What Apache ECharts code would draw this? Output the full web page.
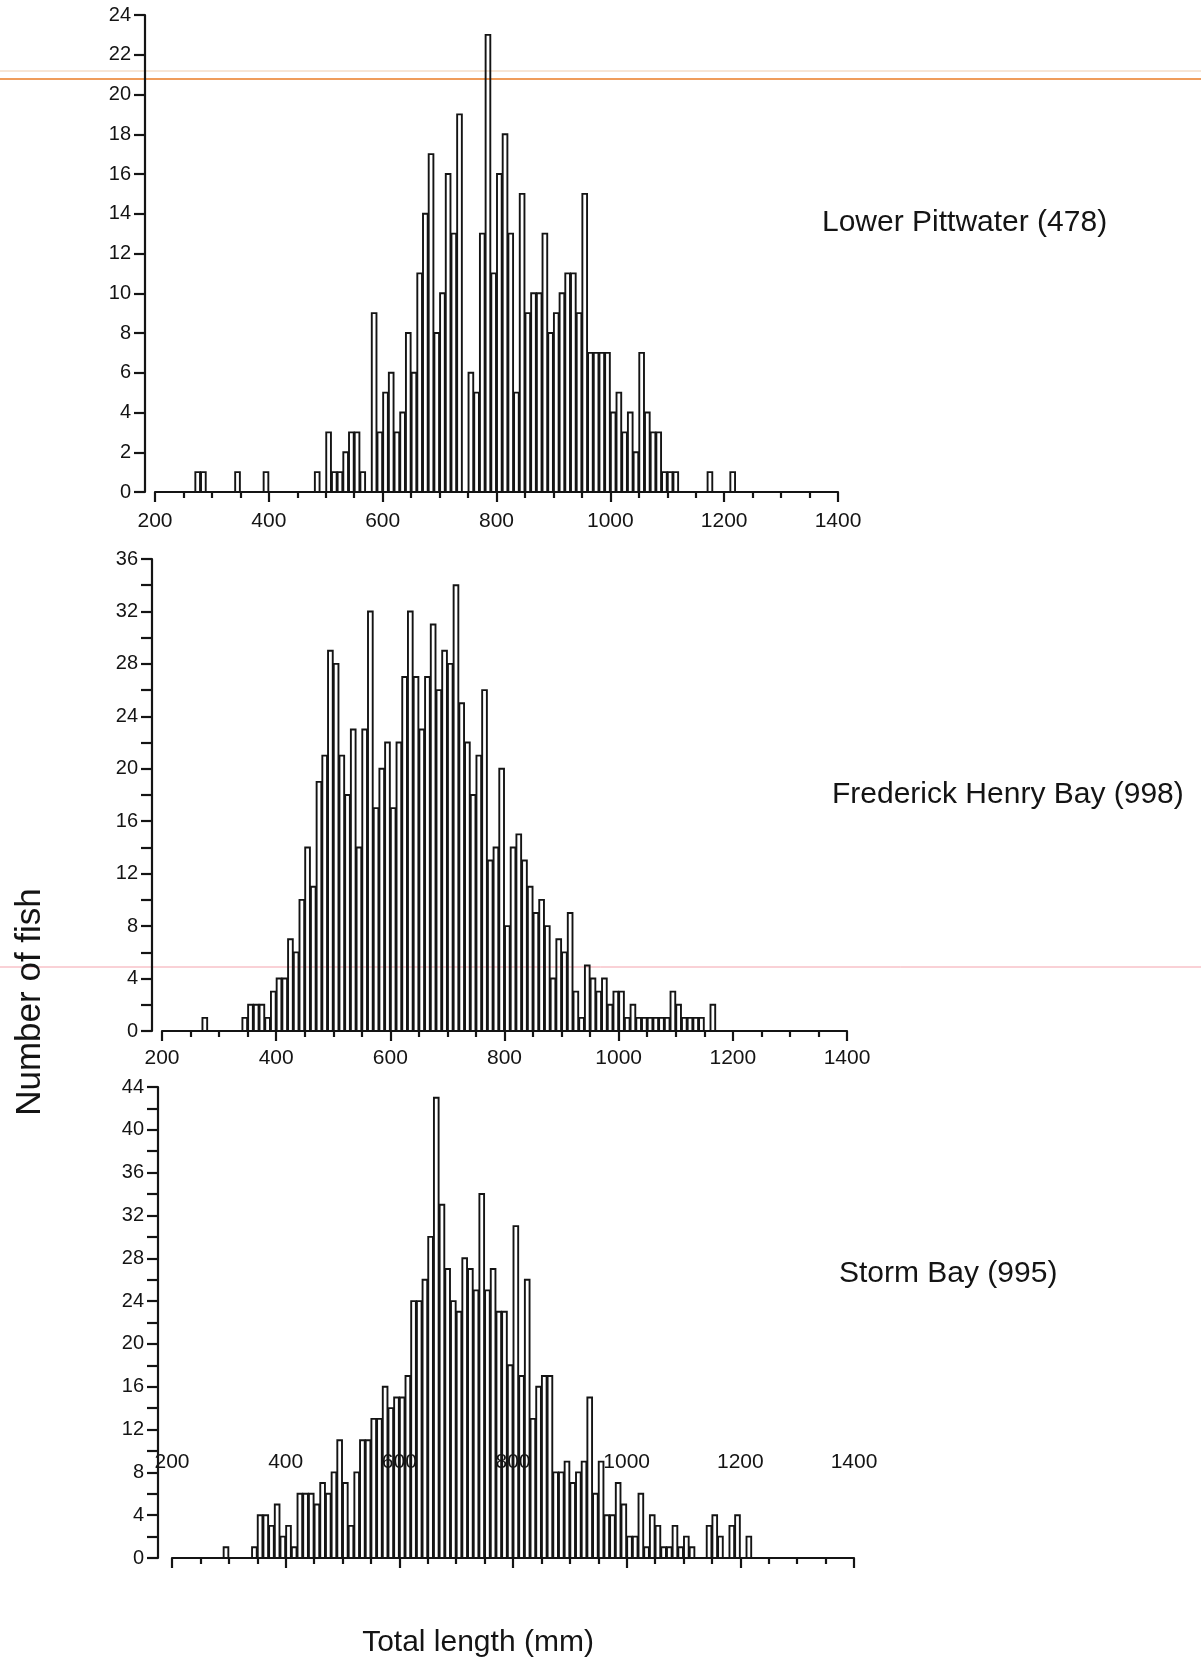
<!DOCTYPE html>
<html>
<head>
<meta charset="utf-8">
<script src="https://cdn.jsdelivr.net/npm/echarts@6/dist/echarts.min.js"></script>
<style>
html, body { margin: 0; padding: 0; background: #ffffff; }
#chart { width: 1201px; height: 1661px; }
</style>
</head>
<body>
<div id="chart"></div>
<script>
// Counts per 10 mm total-length class; each list starts at the lower bound given by *First.
const pittwaterFirst = 270;
const pittwaterCounts = [
  1, 1, 0, 0, 0, 0, 0, 1, 0, 0,   0, 0, 1, 0, 0, 0, 0, 0, 0, 0,
  0, 1, 0, 3, 1, 1, 2, 3, 3, 1,   0, 9, 3, 5, 6, 3, 4, 8, 6, 11,
  14, 17, 8, 10, 16, 13, 19, 0, 6, 5,   13, 23, 11, 16, 18, 13, 5, 15, 9, 10,
  10, 13, 8, 9, 10, 11, 11, 9, 15, 7,   7, 7, 7, 4, 5, 3, 4, 2, 7, 4,
  3, 3, 1, 1, 1, 0, 0, 0, 0, 0,   1, 0, 0, 0, 1
];

const frederickFirst = 270;
const frederickCounts = [
  1, 0, 0, 0, 0, 0, 0, 1, 2, 2,   2, 1, 3, 4, 4, 7, 6, 10, 14, 11,
  19, 21, 29, 28, 21, 18, 23, 14, 23, 32,   17, 20, 22, 17, 22, 27, 32, 27, 23, 27,
  31, 26, 29, 28, 34, 25, 22, 18, 21, 26,   13, 14, 20, 8, 14, 15, 13, 11, 9, 10,
  8, 4, 7, 6, 9, 3, 1, 5, 4, 3,   4, 2, 3, 3, 1, 2, 1, 1, 1, 1,
  1, 1, 3, 2, 1, 1, 1, 1, 0, 2
];

const stormFirst = 290;
const stormCounts = [
  1, 0, 0, 0, 0, 1, 4, 4, 3, 5,   2, 3, 1, 6, 6, 6, 5, 7, 6, 8,
  11, 7, 3, 8, 11, 11, 13, 13, 16, 14,   15, 15, 17, 24, 24, 26, 30, 43, 33, 27,
  24, 23, 28, 27, 25, 34, 25, 27, 23, 23,   18, 31, 17, 26, 13, 16, 17, 17, 8, 8,
  9, 7, 8, 9, 15, 6, 9, 4, 4, 7,   5, 2, 2, 6, 1, 4, 3, 1, 1, 3,
  1, 2, 1, 0, 0, 3, 4, 2, 0, 3,   4, 0, 2
];

const classWidth = 10;
const lengthTicks = [200, 400, 600, 800, 1000, 1200, 1400];
const panelNames = ['Lower Pittwater (478)', 'Frederick Henry Bay (998)', 'Storm Bay (995)'];

const FONT = '"Liberation Sans", Arial, Helvetica, sans-serif';
const INK = '#141414';

function toPairs(first, counts) {
  return counts.map((c, i) => [first + classWidth * i, c]).filter(d => d[1] > 0);
}

const grids = [
  { left: 155, top: 15, width: 683, height: 477 },
  { left: 162, top: 559, width: 685, height: 472 },
  { left: 172, top: 1087, width: 682, height: 471 }
];

const yMax = [24, 36, 44];
const yStep = [2, 4, 4];
const yOffset = [10, 10, 14];
const xLabelMargin = [19, 17, -106];

function xAxis(i) {
  return {
    type: 'value', gridIndex: i, min: 200, max: 1400, interval: 200,
    axisLine: { show: true, onZero: false, lineStyle: { color: INK, width: 2.2 } },
    axisTick: { show: true, length: 10, lineStyle: { color: INK, width: 2.2 } },
    minorTick: { show: true, splitNumber: 4, length: 6, lineStyle: { color: INK, width: 2.2 } },
    splitLine: { show: false },
    axisLabel: {
      show: true, color: INK, fontFamily: FONT, fontSize: 21,
      margin: xLabelMargin[i],
      formatter: v => (lengthTicks.indexOf(v) >= 0 ? String(v) : '')
    }
  };
}

function yAxis(i) {
  return {
    type: 'value', gridIndex: i, min: 0, max: yMax[i], interval: yStep[i],
    offset: yOffset[i],
    axisLine: { show: true, lineStyle: { color: INK, width: 2.2 } },
    axisTick: { show: true, length: 11, lineStyle: { color: INK, width: 2.2 } },
    minorTick: { show: yStep[i] > 2, splitNumber: 2, length: 11, lineStyle: { color: INK, width: 2.2 } },
    splitLine: { show: false },
    minorSplitLine: { show: false },
    axisLabel: { show: true, color: INK, fontFamily: FONT, fontSize: 20, margin: 14 }
  };
}

// Outline-only class bars, so the raised Storm Bay length labels stay readable between them.
function histSeries(i, first, counts) {
  return {
    type: 'custom', xAxisIndex: i, yAxisIndex: i, z: 3, clip: false,
    data: toPairs(first, counts),
    encode: { x: 0, y: 1 },
    renderItem: function (params, api) {
      const lo = api.value(0);
      const n = api.value(1);
      const a = api.coord([lo, 0]);
      const b = api.coord([lo + classWidth, n]);
      return {
        type: 'rect',
        shape: { x: a[0] + 0.5, y: b[1], width: b[0] - a[0] - 1, height: a[1] - b[1] },
        style: { fill: 'rgba(255,255,255,0)', stroke: INK, lineWidth: 1.9 }
      };
    }
  };
}

const chart = echarts.init(document.getElementById('chart'), null, { renderer: 'canvas' });

chart.setOption({
  backgroundColor: '#ffffff',
  animation: false,
  grid: grids,
  xAxis: [xAxis(0), xAxis(1), xAxis(2)],
  yAxis: [yAxis(0), yAxis(1), yAxis(2)],
  series: [
    histSeries(0, pittwaterFirst, pittwaterCounts),
    histSeries(1, frederickFirst, frederickCounts),
    histSeries(2, stormFirst, stormCounts)
  ],
  graphic: [
    { type: 'line', z: 0, shape: { x1: 0, y1: 71, x2: 1201, y2: 71 }, style: { stroke: '#f5dcc6', lineWidth: 1.5 } },
    { type: 'line', z: 0, shape: { x1: 0, y1: 79, x2: 1201, y2: 79 }, style: { stroke: '#ef9c5a', lineWidth: 2 } },
    { type: 'line', z: 0, shape: { x1: 0, y1: 967, x2: 1201, y2: 967 }, style: { stroke: '#f4a3ad', lineWidth: 1 } },
    { type: 'text', x: 822, y: 223,
      style: { text: panelNames[0], font: '30px ' + FONT, fill: INK, verticalAlign: 'middle' } },
    { type: 'text', x: 832, y: 795,
      style: { text: panelNames[1], font: '30px ' + FONT, fill: INK, verticalAlign: 'middle' } },
    { type: 'text', x: 839, y: 1274,
      style: { text: panelNames[2], font: '30px ' + FONT, fill: INK, verticalAlign: 'middle' } },
    { type: 'text', x: 30, y: 1002, rotation: Math.PI / 2,
      style: { text: 'Number of fish', font: '35px ' + FONT, fill: INK, align: 'center', verticalAlign: 'middle' } },
    { type: 'text', x: 478, y: 1643,
      style: { text: 'Total length (mm)', font: '30px ' + FONT, fill: INK, align: 'center', verticalAlign: 'middle' } }
  ]
});
</script>
</body>
</html>
